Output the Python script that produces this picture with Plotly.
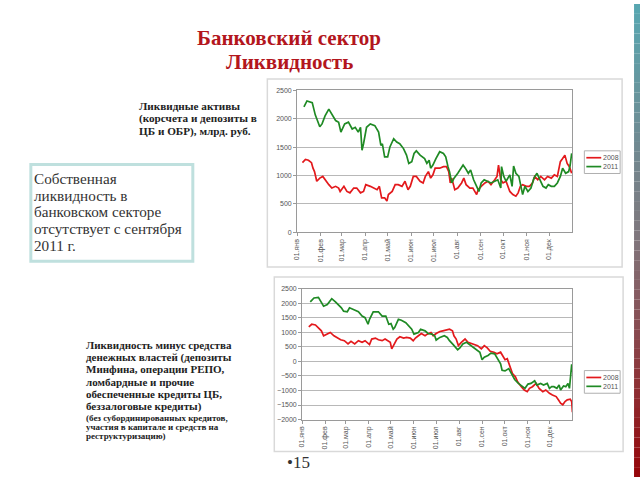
import plotly.graph_objects as go

W, H = 640, 480

RED = "#e3191c"
GREEN = "#1f8a24"
TITLE_RED = "#b3161d"
GRID = "#b8b8b8"
AXIS = "#9a9a9a"

MONTH_TICKS = [0, 31, 59, 90, 120, 151, 181, 212, 243, 273, 304, 334]
MONTH_LABELS = ["01.янв", "01.фев", "01.мар", "01.апр", "01.май", "01.июн",
                "01.июл", "01.авг", "01.сен", "01.окт", "01.ноя", "01.дек"]
SERIES_NAMES = ["2008", "2011"]

# верхний график: ликвидные активы, млрд. руб. (день года -> значение)
TOP_2011_DAY = [9, 13, 20, 22, 24, 26, 30, 33, 37, 42,
                46, 51, 55, 58, 63, 68, 73, 77, 81, 84,
                86, 88, 92, 97, 103, 108, 111, 113, 116, 120,
                123, 128, 132, 136, 141, 145, 148, 152, 155, 158,
                163, 169, 172, 175, 177, 180, 184, 189, 194, 197,
                200, 202, 205, 208, 213, 220, 223, 227, 230, 234,
                238, 241, 244, 248, 252, 257, 262, 266, 270, 271,
                274, 277, 282, 285, 287, 290, 294, 296, 299, 302,
                306, 310, 314, 318, 322, 326, 330, 333, 337, 341,
                345, 349, 352, 356, 360, 362, 364]
TOP_2011_VAL = [2211, 2315, 2285, 2170, 2070, 2000, 1860, 1910, 2050, 2170,
                2080, 1970, 1940, 1765, 1910, 1940, 1820, 1850, 1765, 1850,
                1447, 1560, 1850, 1910, 1880, 1765, 1530, 1560, 1330, 1330,
                1505, 1650, 1590, 1560, 1475, 1360, 1215, 1245, 1390, 1435,
                1360, 1300, 1215, 1270, 1130, 1185, 1300, 1420, 1390, 1330,
                1157, 1070, 870, 955, 1040, 1185, 1130, 1040, 1100, 925,
                810, 720, 870, 925, 900, 870, 900, 925, 780, 1157,
                985, 900, 1013, 810, 1169, 1040, 985, 840, 665, 810,
                720, 780, 955, 1040, 925, 810, 780, 840, 810, 810,
                870, 985, 1130, 1040, 1070, 1185, 1390]

TOP_2008_DAY = [7, 11, 15, 19, 21, 23, 26, 30, 34, 37,
                42, 46, 51, 55, 57, 62, 66, 70, 75, 79,
                84, 88, 91, 97, 101, 106, 109, 112, 116, 119,
                121, 126, 130, 134, 139, 143, 147, 150, 154, 158,
                163, 167, 170, 174, 177, 180, 183, 189, 194, 198,
                201, 203, 205, 209, 213, 218, 221, 224, 229, 233,
                238, 240, 244, 249, 253, 257, 262, 265, 267, 270,
                273, 277, 282, 286, 290, 293, 296, 299, 304, 308,
                312, 315, 319, 323, 328, 332, 337, 341, 345, 349,
                352, 355, 358, 361, 364]
TOP_2008_VAL = [1227, 1285, 1270, 1227, 1130, 1070, 900, 955, 985, 925,
                840, 780, 810, 780, 720, 810, 720, 695, 780, 780,
                695, 720, 840, 810, 780, 750, 810, 608, 608, 550,
                665, 720, 840, 840, 810, 900, 750, 810, 985, 985,
                900, 870, 985, 1070, 955, 1013, 1130, 1130, 1157, 1157,
                1070, 870, 955, 750, 780, 870, 955, 840, 780, 780,
                665, 750, 810, 870, 900, 840, 925, 985, 1185, 925,
                870, 900, 720, 665, 636, 695, 810, 840, 810, 810,
                870, 985, 925, 985, 925, 985, 955, 1013, 985, 1245,
                1300, 1360, 1215, 1157, 1040]

# нижний график: ликвидность минус средства денежных властей
BOT_2011_DAY = [11, 16, 22, 25, 29, 34, 40, 45, 49, 53,
                56, 61, 64, 69, 76, 81, 85, 89, 91, 96,
                103, 108, 113, 117, 120, 123, 125, 130, 134, 140,
                143, 148, 151, 157, 160, 166, 170, 175, 179, 181,
                186, 192, 196, 199, 204, 207, 210, 213, 217, 222,
                226, 231, 235, 240, 243, 246, 251, 255, 260, 264,
                268, 270, 274, 279, 283, 287, 292, 297, 301, 305,
                309, 314, 317, 322, 326, 331, 334, 337, 340, 344,
                347, 349, 353, 356, 359, 361, 363, 364, 365]
BOT_2011_VAL = [2048, 2183, 2206, 2093, 1900, 1957, 2161, 2048, 1957, 1844,
                1731, 1709, 1844, 1787, 1709, 1562, 1505, 1279, 1448, 1709,
                1709, 1562, 1562, 1279, 1302, 1109, 1166, 1448, 1415, 1335,
                1256, 1109, 940, 996, 1109, 1053, 962, 940, 883, 736,
                827, 883, 827, 714, 578, 488, 397, 465, 601, 657,
                578, 488, 431, 318, 58, 148, 205, 284, 262, 92,
                -78, -304, -327, -247, -417, -621, -756, -869, -926, -779,
                -756, -666, -813, -756, -813, -756, -926, -869, -869, -926,
                -813, -982, -847, -869, -756, -926, -417, -100, -360]

BOT_2008_DAY = [9, 13, 18, 22, 26, 29, 34, 38, 43, 47,
                52, 57, 62, 66, 71, 76, 81, 85, 91, 94,
                99, 103, 108, 112, 119, 121, 123, 128, 132, 137,
                141, 146, 150, 153, 157, 161, 166, 169, 174, 177,
                181, 186, 190, 195, 199, 203, 205, 208, 211, 215,
                220, 224, 228, 233, 237, 242, 246, 250, 254, 259,
                263, 268, 271, 274, 277, 281, 284, 288, 291, 296,
                300, 304, 307, 311, 316, 320, 325, 329, 334, 338,
                343, 346, 349, 352, 355, 358, 362, 364, 365]
BOT_2008_VAL = [1188, 1279, 1256, 1143, 1053, 883, 940, 996, 883, 827,
                747, 714, 601, 691, 601, 714, 657, 714, 578, 770,
                804, 747, 714, 770, 657, 431, 544, 770, 849, 804,
                827, 804, 714, 804, 883, 962, 883, 940, 996, 883,
                962, 1030, 1053, 1075, 1109, 1053, 883, 770, 544, 657,
                770, 657, 623, 601, 544, 431, 544, 465, 352, 318,
                262, 318, 205, 58, 92, -191, -417, -530, -700, -869,
                -982, -1039, -926, -869, -756, -926, -1039, -982, -1096, -1152,
                -1209, -1322, -1435, -1492, -1379, -1322, -1299, -1379, -1750]

# тексты слайда
TITLE_LINES = ["Банковский сектор", "Ликвидность"]
TOP_LABEL = ["Ликвидные активы", "(корсчета и депозиты в", "ЦБ и ОБР), млрд. руб."]
BOX_TEXT = ["Собственная", "ликвидность в", "банковском секторе",
            "отсутствует с сентября", "2011 г."]
BOT_LABEL = ["Ликвидность минус средства", "денежных властей (депозиты",
             "Минфина, операции РЕПО,", "ломбардные и прочие",
             "обеспеченные кредиты ЦБ,", "беззалоговые кредиты)"]
BOT_NOTE = ["(без субординированных кредитов,", "участия в капитале и средств на",
            "реструктуризацию)"]


def fx(p):
    return p / W


def fy(p):
    return 1 - p / H


fig = go.Figure()

# линии графиков
for days, vals, color, ax in [
    (TOP_2008_DAY, TOP_2008_VAL, RED, ("x", "y")),
    (TOP_2011_DAY, TOP_2011_VAL, GREEN, ("x", "y")),
    (BOT_2008_DAY, BOT_2008_VAL, RED, ("x2", "y2")),
    (BOT_2011_DAY, BOT_2011_VAL, GREEN, ("x2", "y2")),
]:
    fig.add_trace(go.Scatter(
        x=days, y=vals, mode="lines",
        line=dict(color=color, width=1.7),
        xaxis=ax[0], yaxis=ax[1],
        showlegend=False, hoverinfo="skip",
    ))

tick_font = dict(family="Liberation Sans", size=7, color="#555555")

xaxis_common = dict(
    range=[0, 365], tickvals=MONTH_TICKS, ticktext=MONTH_LABELS,
    tickangle=-90, showgrid=False, zeroline=False,
    showline=True, linecolor=AXIS, linewidth=1, mirror=True,
    ticks="outside", ticklen=3, tickcolor=AXIS, tickfont=tick_font,
)
yaxis_common = dict(
    dtick=500, showgrid=True, gridcolor=GRID, gridwidth=1, zeroline=False,
    showline=True, linecolor=AXIS, linewidth=1, mirror=True,
    ticks="outside", ticklen=3, tickcolor=AXIS, tickfont=tick_font,
)

fig.update_layout(
    width=W, height=H, autosize=False,
    margin=dict(l=0, r=0, t=0, b=0),
    paper_bgcolor="white", plot_bgcolor="white",
    xaxis=dict(domain=[fx(295), fx(572)], anchor="y", **xaxis_common),
    yaxis=dict(domain=[fy(231.7), fy(87.7)], range=[0, 2500], anchor="x", **yaxis_common),
    xaxis2=dict(domain=[fx(300), fx(572)], anchor="y2", **xaxis_common),
    yaxis2=dict(domain=[fy(421.7), fy(289)], range=[-2000, 2500], anchor="x2", **yaxis_common),
)

shapes = []
# рамки вокруг диаграмм
shapes.append(dict(type="rect", xref="paper", yref="paper", layer="below",
                   x0=fx(265), x1=fx(622), y0=fy(267), y1=fy(76),
                   line=dict(color="#d9d9d9", width=1.5)))
shapes.append(dict(type="rect", xref="paper", yref="paper", layer="below",
                   x0=fx(272), x1=fx(623), y0=fy(454), y1=fy(277),
                   line=dict(color="#d9d9d9", width=1.5)))
# рамка с текстом слева
shapes.append(dict(type="rect", xref="paper", yref="paper",
                   x0=fx(27), x1=fx(190), y0=fy(261), y1=fy(163),
                   line=dict(color="#bfe0de", width=3)))

annotations = []


def add_text(x, y, text, size, color="#222222", bold=False, anchor="left"):
    annotations.append(dict(
        xref="paper", yref="paper", x=fx(x), y=fy(y),
        xanchor=anchor, yanchor="middle", showarrow=False,
        text="<b>%s</b>" % text if bold else text,
        font=dict(family="Liberation Serif", size=size, color=color),
    ))


# легенды (нарисованы вручную, чтобы были компактными как в оригинале)
for top in (149, 372):
    shapes.append(dict(type="rect", xref="paper", yref="paper",
                       x0=fx(584), x1=fx(620), y0=fy(top + 23), y1=fy(top),
                       line=dict(color="#b0b0b0", width=1)))
    for i, (name, color) in enumerate(zip(SERIES_NAMES, [RED, GREEN])):
        yy = top + 7 + i * 9
        shapes.append(dict(type="line", xref="paper", yref="paper",
                           x0=fx(586), x1=fx(601), y0=fy(yy), y1=fy(yy),
                           line=dict(color=color, width=1.7)))
        annotations.append(dict(xref="paper", yref="paper", x=fx(601), y=fy(yy),
                                xanchor="left", yanchor="middle", showarrow=False,
                                text=name, font=dict(family="Liberation Sans", size=7, color="#555555")))

# полоса справа с градиентом
n_slices = 48
stops = [(88, 168, 178), (128, 118, 124), (150, 4, 8)]
for i in range(n_slices):
    t = (i + 0.5) / n_slices
    if t <= 0.5:
        a, b, f = stops[0], stops[1], t / 0.5
    else:
        a, b, f = stops[1], stops[2], (t - 0.5) / 0.5
    c = tuple(int(a[k] + (b[k] - a[k]) * f) for k in range(3))
    shapes.append(dict(type="rect", xref="paper", yref="paper",
                       x0=fx(634), x1=1, y0=fy((i + 1) * H / n_slices), y1=fy(i * H / n_slices),
                       line=dict(width=0), fillcolor="rgb(%d,%d,%d)" % c))

# заголовок
for i, line in enumerate(TITLE_LINES):
    add_text(287, 35 + i * 24, line, 21, TITLE_RED, bold=True, anchor="center")

# подпись к верхнему графику
for i, line in enumerate(TOP_LABEL):
    add_text(134, 104 + i * 12.5, line, 11.2, bold=True)

# текст в рамке
for i, line in enumerate(BOX_TEXT):
    add_text(28, 177 + i * 17, line, 15.2, "#333333")

# подпись к нижнему графику
for i, line in enumerate(BOT_LABEL):
    add_text(80, 346 + i * 12.4, line, 11, bold=True)
for i, line in enumerate(BOT_NOTE):
    add_text(80, 420 + i * 9, line, 9, bold=True)

# номер слайда
add_text(283, 465, "•15", 17, "#333333")

fig.update_layout(shapes=shapes, annotations=annotations)

# убираем отступ body, чтобы рисунок совпадал с окном 640x480
fig.write_html("out.html", config={"displayModeBar": False},
               post_script="document.body.style.margin='0';")
